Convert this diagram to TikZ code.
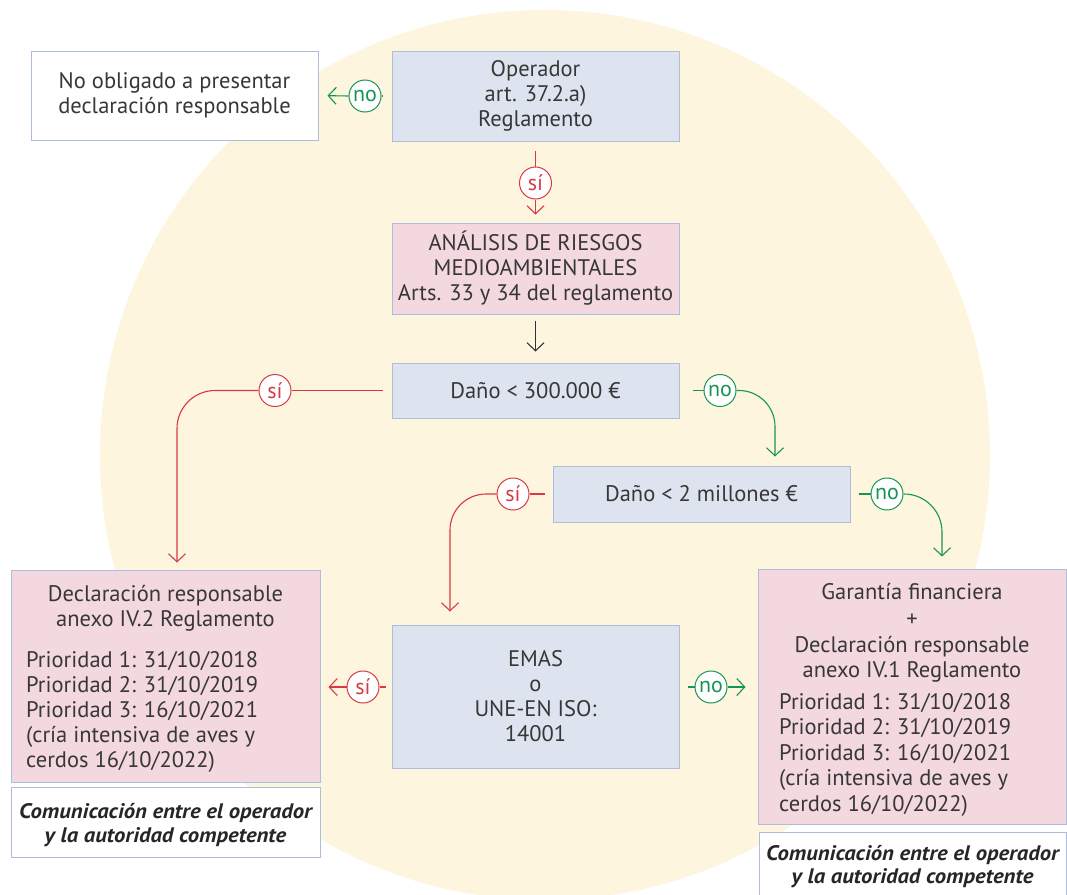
\documentclass[tikz,border=0pt]{standalone}
\usepackage{fontspec}
\setmainfont{PT Sans}
\newfontfamily\comfont[FakeStretch=1.08]{PT Sans}
\usetikzlibrary{arrows.meta}
\definecolor{yellowc}{RGB}{253,245,222}
\definecolor{bluefill}{RGB}{222,228,239}
\definecolor{pinkfill}{RGB}{243,216,223}
\definecolor{boxline}{RGB}{172,190,220}
\definecolor{redc}{RGB}{215,58,66}
\definecolor{greenc}{RGB}{22,150,82}
\definecolor{txtc}{RGB}{55,55,55}
\tikzset{
  box/.style={draw=boxline, line width=1pt, inner sep=0pt, align=center, text=txtc, font=\fontsize{22.5}{25}\selectfont},
  bluebox/.style={box, fill=bluefill},
  pinkbox/.style={box, fill=pinkfill},
  whitebox/.style={box, fill=white},
  txt/.style={inner sep=0pt, text=txtc, font=\fontsize{22.5}{25}\selectfont},
  comtxt/.style={inner sep=0pt, text=black!85, font=\comfont\fontsize{21}{23}\selectfont\bfseries\itshape},
  lab/.style={circle, fill=white, line width=1pt, minimum size=32pt, inner sep=0pt, font=\fontsize{22}{22}\selectfont},
  silab/.style={lab, draw=redc, text=redc},
  nolab/.style={lab, draw=greenc, text=greenc},
  redl/.style={draw=redc, line width=1.1pt},
  greenl/.style={draw=greenc, line width=1.1pt},
  blackl/.style={draw=black!80, line width=1.1pt},
  arrowed/.style={-{Straight Barb[length=8pt,width=17pt]}}
}
\begin{document}
\begin{tikzpicture}[x=1pt,y=-1pt]
\useasboundingbox (0,0) rectangle (1067,894);
\fill[yellowc] (545,455) circle (445pt);

% boxes
\node[whitebox, minimum width=287pt, minimum height=89pt] (noob) at (174.5,95.5) {No obligado a presentar\\declaración responsable};
\node[bluebox, minimum width=287pt, minimum height=90pt] (op) at (535.5,96) {Operador\\art. 37.2.a)\\Reglamento};
\node[pinkbox, minimum width=287pt, minimum height=91pt] (an) at (535.5,268.5) {ANÁLISIS DE RIESGOS\\MEDIOAMBIENTALES\\Arts. 33 y 34 del reglamento};
\node[bluebox, minimum width=287pt, minimum height=55pt] (d300) at (535.5,390.5) {Daño < 300.000 €};
\node[bluebox, minimum width=297pt, minimum height=56pt] (d2m) at (701.5,494) {Daño < 2 millones €};
\node[bluebox, minimum width=287pt, minimum height=143pt] (emas) at (535.5,696.5) {EMAS\\o\\UNE-EN ISO:\\14001};
\node[pinkbox, minimum width=309pt, minimum height=212pt] (decl) at (165.5,676) {};
\node[whitebox, minimum width=309pt, minimum height=70pt] (com1) at (165.5,822) {};
\node[pinkbox, minimum width=308pt, minimum height=255pt] (gar) at (912,696.5) {};
\node[whitebox, minimum width=307pt, minimum height=70pt] (com2) at (912.5,867) {};

% texts in left declaration box
\node[txt, anchor=base] (dl1) at (165.5,601) {Declaración responsable};
\node[txt, anchor=base] (dl2) at (165.5,626) {anexo IV.2 Reglamento};
\node[txt, anchor=base west] (dl3) at (26,667) {Prioridad 1: 31/10/2018};
\node[txt, anchor=base west] (dl4) at (26,692) {Prioridad 2: 31/10/2019};
\node[txt, anchor=base west] (dl5) at (26,717) {Prioridad 3: 16/10/2021};
\node[txt, anchor=base west] (dl6) at (26,742) {(cría intensiva de aves y};
\node[txt, anchor=base west] (dl7) at (26,767) {cerdos 16/10/2022)};

% texts in right box
\node[txt, anchor=base] (gr1) at (912,599) {Garantía financiera};
\node[txt, anchor=base] (gr2) at (912,626) {+};
\node[txt, anchor=base] (gr3) at (912,652) {Declaración responsable};
\node[txt, anchor=base] (gr4) at (912,677) {anexo IV.1 Reglamento};
\node[txt, anchor=base west] (gr5) at (779,709) {Prioridad 1: 31/10/2018};
\node[txt, anchor=base west] (gr6) at (779,734.5) {Prioridad 2: 31/10/2019};
\node[txt, anchor=base west] (gr7) at (779,760) {Prioridad 3: 16/10/2021};
\node[txt, anchor=base west] (gr8) at (779,785.5) {(cría intensiva de aves y};
\node[txt, anchor=base west] (gr9) at (779,811) {cerdos 16/10/2022)};

% comunicación texts
\node[comtxt, anchor=base] (ct1) at (165.5,818) {Comunicación entre el operador};
\node[comtxt, anchor=base] (ct2) at (165.5,842) {y la autoridad competente};
\node[comtxt, anchor=base] (ct3) at (912.5,860) {Comunicación entre el operador};
\node[comtxt, anchor=base] (ct4) at (912.5,883) {y la autoridad competente};

% labels
\node[nolab] (no1) at (365,96) {no};
\node[silab] (si1) at (535.5,183) {sí};
\node[silab] (si2) at (275,390.5) {sí};
\node[nolab] (no2) at (720,390.5) {no};
\node[silab] (si3) at (513,494) {sí};
\node[nolab] (no3) at (887,494) {no};
\node[silab] (si4) at (363,687) {sí};
\node[nolab] (no4) at (711,687) {no};

\coordinate (k1) at (177,390.5);
\coordinate (k2) at (775,390.5);
\coordinate (k3) at (450,494);
\coordinate (k4) at (942,494);

% connectors
\draw[greenl, shorten <=9pt] (op.west) -- (no1.east);
\draw[greenl, arrowed, shorten >=9pt] (no1.west) -- (noob.east);

\draw[redl, shorten <=9pt] (op.south) -- (si1.north);
\draw[redl, arrowed, shorten >=8pt] (si1.south) -- (an.north);

\draw[blackl, arrowed, shorten <=6pt, shorten >=11pt] (an.south) -- (d300.north);

\draw[redl, shorten <=9pt] (d300.west) -- (si2.east);
\draw[redl, arrowed, shorten >=7pt, rounded corners=38pt] (si2.west) -- (k1) -- (k1 |- decl.north);

\draw[greenl, shorten <=13pt] (d300.east) -- (no2.west);
\draw[greenl, arrowed, shorten >=9pt, rounded corners=36pt] (no2.east) -- (k2) -- (k2 |- d2m.north);

\draw[redl, shorten <=8pt] (d2m.west) -- (si3.east);
\draw[redl, arrowed, shorten >=13pt, rounded corners=36pt] (si3.west) -- (k3) -- (k3 |- emas.north);

\draw[greenl, shorten <=8pt] (d2m.east) -- (no3.west);
\draw[greenl, arrowed, shorten >=12pt, rounded corners=38pt] (no3.east) -- (k4) -- (k4 |- gar.north);

\draw[redl, shorten <=6pt] (si4 -| emas.west) -- (si4.east);
\draw[redl, arrowed, shorten >=8pt] (si4.west) -- (si4 -| decl.east);

\draw[greenl, shorten <=8pt] (no4 -| emas.east) -- (no4.west);
\draw[greenl, arrowed, shorten >=12pt] (no4.east) -- (no4 -| gar.west);
\end{tikzpicture}
\end{document}
